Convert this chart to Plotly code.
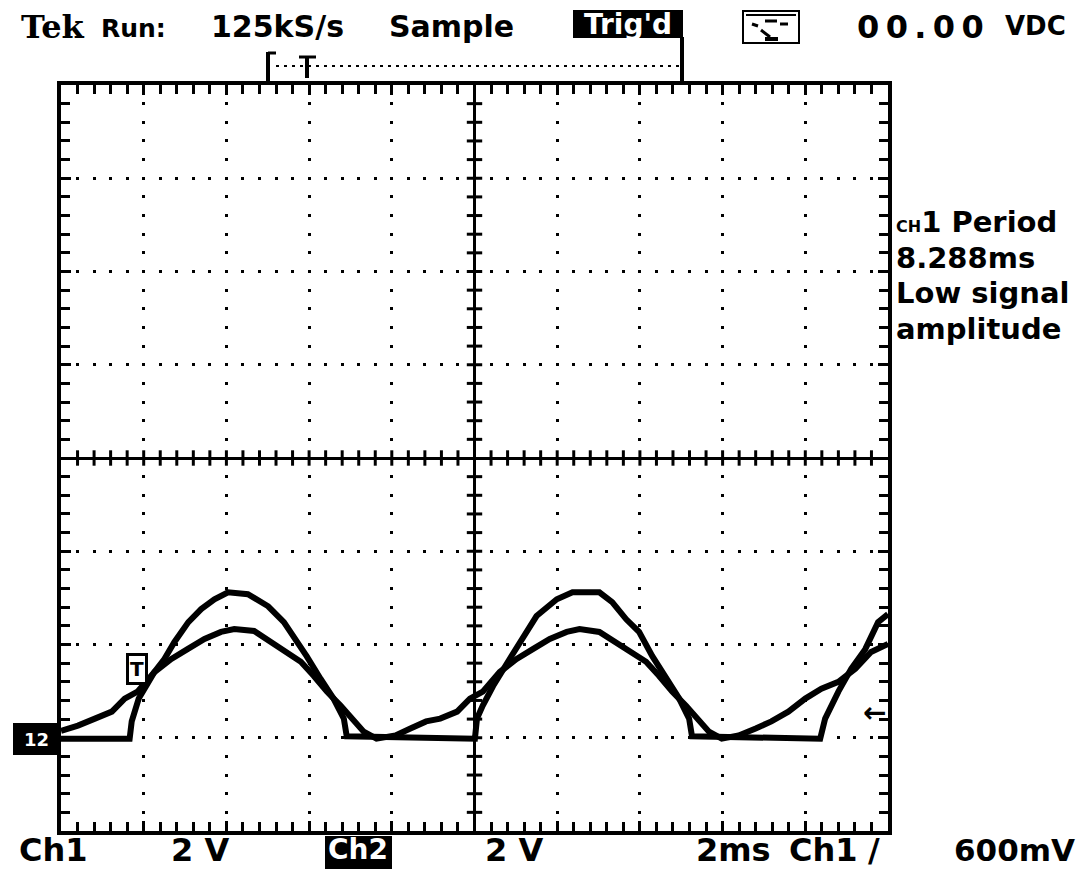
import plotly.graph_objects as go

# ---------------- data (time in ms relative to screen centre, volts) ----------------
# Ch1: smooth sine-like trace
t_ch1 = [-10.00, -9.59, -9.18, -8.77, -8.46, -8.15, -7.74, -7.33, -6.94, -6.53,
         -6.13, -5.81, -5.33, -4.92, -4.54, -4.20, -3.89, -3.57, -3.24, -2.92,
         -2.68, -2.37, -1.91, -1.55, -1.17, -0.83, -0.42, -0.11, 0.20, 0.61,
         1.02, 1.41, 1.82, 2.23, 2.54, 3.02, 3.43, 3.81, 4.15, 4.46,
         4.78, 5.11, 5.43, 5.67, 5.98, 6.39, 6.80, 7.18, 7.59, 8.00,
         8.39, 8.80, 9.21, 9.59, 10.00]
v_ch1 = [-5.85, -5.74, -5.59, -5.44, -5.16, -5.01, -4.59, -4.31, -4.10, -3.88,
         -3.73, -3.67, -3.71, -3.95, -4.16, -4.37, -4.67, -5.01, -5.31, -5.65,
         -5.87, -6.02, -5.95, -5.80, -5.65, -5.59, -5.44, -5.16, -5.01, -4.59,
         -4.31, -4.10, -3.88, -3.73, -3.67, -3.73, -3.95, -4.16, -4.37, -4.67,
         -5.01, -5.31, -5.65, -5.87, -6.02, -5.95, -5.80, -5.65, -5.44, -5.16,
         -4.95, -4.80, -4.52, -4.16, -3.99]

# Ch2: clipped trace
t_ch2 = [-10.00, -8.34, -8.29, -8.12, -7.98, -7.74, -7.50, -7.26, -6.92, -6.61,
         -6.29, -5.96, -5.48, -4.99, -4.61, -4.37, -4.06, -3.72, -3.41, -3.16,
         -3.09, 0.01, 0.06, 0.20, 0.45, 0.85, 1.17, 1.50, 1.99, 2.37,
         3.02, 3.33, 3.67, 3.98, 4.30, 4.63, 4.95, 5.19, 5.26, 8.36,
         8.48, 8.80, 9.11, 9.45, 9.76, 10.00]
v_ch2 = [-6.02, -6.02, -5.65, -5.16, -4.95, -4.59, -4.31, -3.95, -3.52, -3.24,
         -3.03, -2.88, -2.92, -3.18, -3.52, -3.82, -4.25, -4.74, -5.16, -5.59,
         -5.97, -6.02, -5.59, -5.31, -4.89, -4.31, -3.88, -3.39, -3.03, -2.88,
         -2.88, -3.09, -3.46, -3.73, -4.25, -4.74, -5.16, -5.59, -5.97, -6.02,
         -5.59, -5.01, -4.52, -4.10, -3.52, -3.35]

# scope settings / labels
x_range = [-10, 10]      # 2 ms/div, 10 divisions
y_range = [-8, 8]        # 2 V/div, 8 divisions
div_x, div_y = 2, 2
sub_x, sub_y = 0.4, 0.4
top_labels = ["Run:", "125kS/s", "Sample", "Trig'd", "0\u20090\u2009.\u20090\u20090", "VDC"]
bottom_labels = ["Ch1", "2 V", "Ch2", "2 V", "2ms", "Ch1", "/", "600mV"]
meas_lines = ["<span style='font-size:16px'>CH</span>1 Period", "8.288ms", "Low signal", "amplitude"]

FONT = "DejaVu Sans"
OFF = 8                      # page body margin
FW, FH = 1088, 869
L, R, T, B = 53, 880, 77, 823   # plot area in figure pixels
W, H = R - L, B - T


def fx(px):      # screen pixel -> paper
    return (px - OFF - L) / W


def fy(py):
    return (B - (py - OFF)) / H


fig = go.Figure()

fig.add_trace(go.Scatter(x=t_ch1, y=v_ch1, mode="lines",
                         line=dict(color="black", width=6), hoverinfo="skip"))
fig.add_trace(go.Scatter(x=t_ch2, y=v_ch2, mode="lines",
                         line=dict(color="black", width=6), hoverinfo="skip"))

# centre-line tick marks (graticule decoration)
nx = int(round((x_range[1] - x_range[0]) / sub_x / 2))
ny = int(round((y_range[1] - y_range[0]) / sub_y / 2))
cx = [k * sub_x for k in range(-nx + 1, nx) if k != 0]
cy = [k * sub_y for k in range(-ny + 1, ny) if k != 0]
fig.add_trace(go.Scatter(x=cx, y=[0] * len(cx), mode="markers", hoverinfo="skip",
                         marker=dict(symbol="line-ns", size=11, line=dict(width=3, color="black"))))
fig.add_trace(go.Scatter(x=[0] * len(cy), y=cy, mode="markers", hoverinfo="skip",
                         marker=dict(symbol="line-ew", size=11, line=dict(width=3, color="black"))))

px_per_sub_x = W * sub_x / (x_range[1] - x_range[0])
px_per_sub_y = H * sub_y / (y_range[1] - y_range[0])

axis_common = dict(showline=True, linewidth=4, linecolor="black", mirror="ticks",
                   ticks="inside", ticklen=10, tickwidth=3, tickcolor="black",
                   showticklabels=False, zeroline=True, zerolinecolor="black",
                   zerolinewidth=3, gridcolor="black", gridwidth=3, fixedrange=True)

fig.update_xaxes(range=x_range, dtick=div_x, tick0=0,
                 griddash="1.5px,%.2fpx,1.5px,0px" % (px_per_sub_y - 3),
                 minor=dict(ticks="inside", dtick=sub_x, ticklen=9, tickwidth=3,
                            tickcolor="black", showgrid=False),
                 **axis_common)
fig.update_yaxes(range=y_range, dtick=div_y, tick0=0,
                 griddash="1.5px,%.2fpx,1.5px,0px" % (px_per_sub_x - 3),
                 minor=dict(ticks="inside", dtick=sub_y, ticklen=9, tickwidth=3,
                            tickcolor="black", showgrid=False),
                 **axis_common)


def txt(s, px, py, size, anchor="left", color="black", family=FONT, bg=None):
    fig.add_annotation(text=s, xref="paper", yref="paper", x=fx(px), y=fy(py),
                       xanchor=anchor, yanchor="middle", showarrow=False,
                       bgcolor=bg, borderpad=0,
                       font=dict(family=family, size=size, color=color, weight="bold"))


def rect(x0, y0, x1, y1, fill="black", line="black", lw=0):
    fig.add_shape(type="rect", xref="paper", yref="paper",
                  x0=fx(x0), x1=fx(x1), y0=fy(y0), y1=fy(y1),
                  fillcolor=fill, line=dict(color=line, width=lw), layer="above")


def seg(x0, y0, x1, y1, lw=3, dash="solid"):
    fig.add_shape(type="line", xref="paper", yref="paper",
                  x0=fx(x0), x1=fx(x1), y0=fy(y0), y1=fy(y1),
                  line=dict(color="black", width=lw, dash=dash), layer="above")


# ---- top status bar ----
txt("Tek", 20, 27, 32, family="DejaVu Serif")
txt(top_labels[0], 100, 28, 25)
txt(top_labels[1], 210, 27, 30)
txt(top_labels[2], 388, 27, 30)
rect(573, 10, 683, 38)
txt(top_labels[3], 628, 25, 28, anchor="center", color="white")
# acquisition icon
rect(743, 11, 799, 43, fill="white", line="black", lw=2)
seg(746, 15, 796, 15, lw=2)
seg(752, 24, 758, 26, lw=3)
seg(761, 30, 770, 37, lw=3)
seg(765, 21, 777, 21, lw=3)
seg(780, 24, 788, 24, lw=3)
seg(765, 39, 778, 39, lw=4)
txt(top_labels[4], 856, 27, 32)
txt(top_labels[5], 1004, 26, 26)

# ---- trigger position bracket ----
seg(268, 52, 268, 83, lw=4)
seg(268, 53, 276, 53, lw=3)
seg(276, 66, 680, 66, lw=2, dash="3px,5px")
seg(299, 57, 316, 57, lw=3)
seg(307, 57, 307, 78, lw=4)
seg(682, 37, 682, 83, lw=4)

# ---- measurement readout ----
ys = [222, 258, 293, 329]
for s, yy in zip(meas_lines, ys):
    txt(s, 895, yy, 29)

# ---- markers ----
rect(13, 723, 60, 755)
txt("12", 36, 739, 18, anchor="center", color="white")
fig.add_annotation(text="T", xref="paper", yref="paper", x=fx(137), y=fy(669),
                   xanchor="center", yanchor="middle", showarrow=False,
                   bgcolor="white", bordercolor="black", borderwidth=3, borderpad=1,
                   font=dict(family=FONT, size=20, color="black", weight="bold"))
txt("←", 874, 712, 28, anchor="center")

# ---- bottom status bar ----
txt(bottom_labels[0], 18, 850, 32)
txt(bottom_labels[1], 170, 850, 32)
rect(325, 836, 392, 869)
txt(bottom_labels[2], 358, 850, 28, anchor="center", color="white")
txt(bottom_labels[3], 484, 850, 32)
txt(bottom_labels[4], 695, 850, 32)
txt(bottom_labels[5], 788, 850, 32)
txt(bottom_labels[6], 874, 850, 32, anchor="center")
txt(bottom_labels[7], 953, 850, 31)

fig.update_layout(width=FW, height=FH, autosize=False,
                  margin=dict(l=L, r=FW - R, t=T, b=FH - B, pad=0),
                  paper_bgcolor="white", plot_bgcolor="white",
                  showlegend=False, hovermode=False)

fig.write_html("out.html")
